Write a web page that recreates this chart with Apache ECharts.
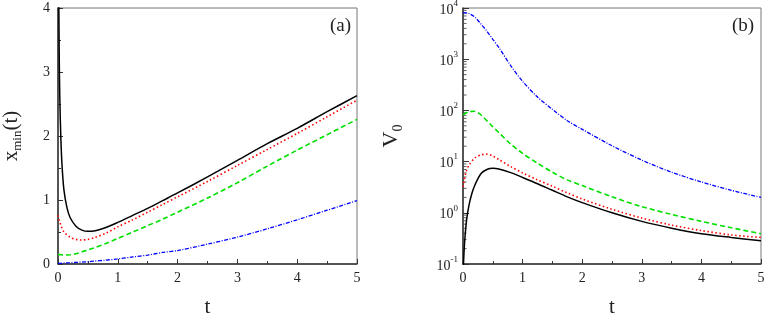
<!DOCTYPE html>
<html><head><meta charset="utf-8">
<script src="https://cdn.jsdelivr.net/npm/echarts@6/dist/echarts.min.js"></script>
<style>html,body{margin:0;padding:0;background:#fff}#c{width:764px;height:314px}</style>
</head><body><div id="c"></div>
<script>
// ---- Panel (a): x_min(t) ----
const tA = [0, 0.05, 0.1, 0.2, 0.3, 0.4, 0.5, 0.6, 0.8, 1, 1.25, 1.5, 1.75, 2, 2.5, 3, 3.5, 4, 4.5, 5];
const redA = [0.76, 0.6, 0.5, 0.42, 0.385, 0.375, 0.385, 0.41, 0.48, 0.58, 0.69, 0.81, 0.93, 1.05, 1.29, 1.54, 1.79, 2.04, 2.3, 2.56];
const greenA = [0.15, 0.145, 0.14, 0.145, 0.16, 0.19, 0.22, 0.25, 0.32, 0.40, 0.5, 0.6, 0.7, 0.81, 1.03, 1.27, 1.53, 1.78, 2.02, 2.26];
const blueA = [0.01, 0.012, 0.015, 0.02, 0.025, 0.03, 0.035, 0.045, 0.06, 0.08, 0.11, 0.14, 0.18, 0.21, 0.31, 0.42, 0.55, 0.69, 0.84, 0.99];
const tABlack = [0.012, 0.02, 0.03, 0.05, 0.07, 0.1, 0.15, 0.2, 0.3, 0.4, 0.5, 0.6, 0.8, 1, 1.25, 1.5, 1.75, 2, 2.5, 3, 3.5, 4, 4.5, 5];
const blackA = [4.3, 3.3, 2.6, 1.9, 1.5, 1.15, 0.88, 0.73, 0.59, 0.53, 0.51, 0.515, 0.57, 0.65, 0.76, 0.87, 0.99, 1.11, 1.36, 1.62, 1.88, 2.12, 2.38, 2.63];

// ---- Panel (b): V_0 (log scale) ----
const tB = [0, 0.1, 0.2, 0.3, 0.4, 0.5, 0.6, 0.8, 1, 1.25, 1.5, 1.75, 2, 2.5, 3, 3.5, 4, 4.5, 5];
const blueB = [8100, 7800, 6600, 4900, 3550, 2450, 1700, 750, 370, 182, 105, 63, 42.7, 20.4, 10.7, 6.2, 4.0, 2.75, 2.0];
const greenB = [82, 94, 96, 82, 63, 48, 37, 22, 14.5, 9.3, 6.2, 4.4, 3.4, 2.05, 1.32, 0.93, 0.68, 0.51, 0.39];
const tBRed = [0, 0.05, 0.1, 0.2, 0.3, 0.4, 0.5, 0.6, 0.8, 1, 1.25, 1.5, 1.75, 2, 2.5, 3, 3.5, 4, 4.5, 5];
const redB = [3.2, 6.2, 8.5, 11.8, 13.5, 14.0, 12.8, 11.0, 8.0, 6.0, 4.4, 3.3, 2.45, 1.86, 1.17, 0.79, 0.575, 0.45, 0.37, 0.33];
const tBBlack = [0, 0.015, 0.03, 0.06, 0.1, 0.15, 0.2, 0.3, 0.4, 0.5, 0.6, 0.8, 1, 1.25, 1.5, 1.75, 2, 2.5, 3, 3.5, 4, 4.5, 5];
const blackB = [0.06, 0.15, 0.3, 0.72, 1.4, 2.4, 3.5, 5.8, 7.0, 7.4, 7.2, 6.1, 4.9, 3.7, 2.75, 2.05, 1.58, 1.0, 0.68, 0.50, 0.39, 0.33, 0.285];

const decades = [-1, 0, 1, 2, 3];
const minorMult = [2, 3, 4, 5, 6, 7, 8, 9];

const pairs = (xs, ys) => xs.map((x, i) => [x, ys[i]]);
const minorLog = [];
decades.forEach(d => minorMult.forEach(m => minorLog.push([0, m * Math.pow(10, d)])));

const FONT = "'Liberation Serif', 'Times New Roman', serif";
const axisCol = '#333';

function xAxisCfg(gi) {
  return {
    gridIndex: gi, type: 'value', min: 0, max: 5, interval: 1,
    axisLine: { show: true, onZero: false, lineStyle: { color: axisCol, width: 1.5 } },
    axisTick: { show: true, inside: true, length: 5, lineStyle: { color: axisCol } },
    minorTick: { show: true, splitNumber: 2, length: 3, lineStyle: { color: axisCol } },
    splitLine: { show: false },
    axisLabel: { color: '#222', fontFamily: FONT, fontSize: 14, margin: 7 },
    name: 't', nameLocation: 'middle', nameGap: 33,
    nameTextStyle: { color: '#222', fontFamily: FONT, fontSize: 21 }
  };
}

function line(gi, data, color, type, width) {
  return {
    type: 'line', xAxisIndex: gi, yAxisIndex: gi, data: data, symbol: 'none',
    smooth: 0.3, clip: true, silent: true,
    lineStyle: { color: color, type: type, width: width }
  };
}

const chart = echarts.init(document.getElementById('c'), null, { renderer: 'canvas' });
chart.setOption({
  animation: false,
  grid: [
    { left: 58, top: 8, width: 299, height: 256, show: true, borderColor: '#777', borderWidth: 1, containLabel: false, outerBoundsMode: 'none' },
    { left: 463, top: 8, width: 298, height: 256, show: true, borderColor: '#777', borderWidth: 1, containLabel: false, outerBoundsMode: 'none' }
  ],
  xAxis: [xAxisCfg(0), xAxisCfg(1)],
  yAxis: [
    {
      gridIndex: 0, type: 'value', min: 0, max: 4, interval: 1,
      axisLine: { show: true, onZero: false, lineStyle: { color: axisCol, width: 1.5 } },
      axisTick: { show: true, inside: true, length: 5, lineStyle: { color: axisCol } },
      minorTick: { show: true, splitNumber: 2, length: 3, lineStyle: { color: axisCol } },
      splitLine: { show: false },
      axisLabel: { color: '#222', fontFamily: FONT, fontSize: 14, margin: 8 },
      name: '{x|x}{s|min}{x|(t)}', nameLocation: 'middle', nameRotate: 90, nameGap: 34,
      nameTextStyle: {
        color: '#222', fontFamily: FONT,
        rich: {
          x: { fontSize: 21, fontFamily: FONT, color: '#222', lineHeight: 26, verticalAlign: 'middle' },
          s: { fontSize: 13, fontFamily: FONT, color: '#222', lineHeight: 13, verticalAlign: 'bottom' }
        }
      }
    },
    {
      gridIndex: 1, type: 'log', logBase: 10, min: 0.1, max: 10000,
      axisLine: { show: true, onZero: false, lineStyle: { color: axisCol, width: 1.5 } },
      axisTick: { show: true, inside: true, length: 6, lineStyle: { color: axisCol } },
      minorTick: { show: false },
      splitLine: { show: false },
      axisLabel: {
        color: '#222', fontFamily: FONT, fontSize: 14, margin: 5,
        formatter: v => '{b|10}{e|' + Math.round(Math.log10(v)) + '}',
        rich: {
          b: { fontSize: 14, fontFamily: FONT, color: '#222', lineHeight: 18, verticalAlign: 'bottom' },
          e: { fontSize: 9, fontFamily: FONT, color: '#222', lineHeight: 9, verticalAlign: 'top' }
        }
      },
      name: '{v|V}{s|0}', nameLocation: 'middle', nameRotate: 90, nameGap: 58,
      nameTextStyle: {
        color: '#222', fontFamily: FONT,
        rich: {
          v: { fontSize: 22, fontFamily: FONT, color: '#222', lineHeight: 28, verticalAlign: 'middle' },
          s: { fontSize: 14, fontFamily: FONT, color: '#222', lineHeight: 14, verticalAlign: 'bottom' }
        }
      }
    }
  ],
  graphic: [
    { type: 'text', left: 330, top: 17, style: { text: '(a)', font: '19px ' + FONT, fill: '#222' } },
    { type: 'text', left: 732, top: 17, style: { text: '(b)', font: '19px ' + FONT, fill: '#222' } }
  ],
  series: [
    line(0, pairs(tA, blueA), '#0000ff', [4, 1.5, 1, 1.5], 1.3),
    line(0, pairs(tA, greenA), '#00e000', [5, 3], 1.6),
    line(0, pairs(tA, redA), '#ff0000', [1.5, 2.5], 1.6),
    line(0, pairs(tABlack, blackA), '#000000', 'solid', 1.5),
    line(1, pairs(tB, blueB), '#0000ff', [4, 1.5, 1, 1.5], 1.3),
    line(1, pairs(tB, greenB), '#00e000', [5, 3], 1.6),
    line(1, pairs(tBRed, redB), '#ff0000', [1.5, 2.5], 1.6),
    line(1, pairs(tBBlack, blackB), '#000000', 'solid', 1.5),
    {
      type: 'scatter', xAxisIndex: 1, yAxisIndex: 1, data: minorLog, silent: true,
      symbol: 'rect', symbolSize: [3, 1], symbolOffset: [2, 0],
      itemStyle: { color: axisCol }, clip: false
    }
  ]
});
</script>
</body></html>
